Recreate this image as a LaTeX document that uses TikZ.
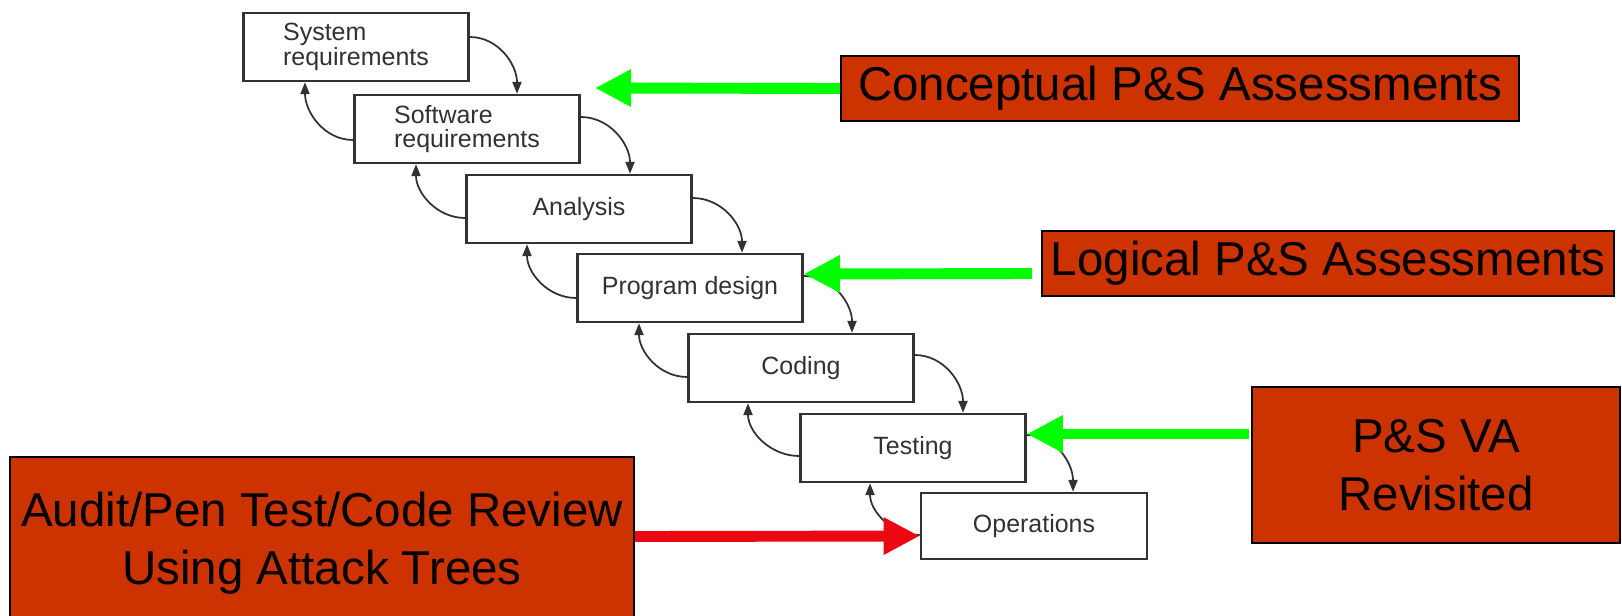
\documentclass[tikz,border=0pt]{standalone}
\usepackage{fontspec}
\setmainfont{Liberation Sans}
\usetikzlibrary{arrows.meta}
\definecolor{boxred}{RGB}{204,51,0}
\definecolor{litegreen}{RGB}{0,255,0}
\definecolor{arrowred}{RGB}{236,8,16}
\definecolor{inkgray}{RGB}{50,50,50}

\begin{document}
\begin{tikzpicture}[x=0.01cm,y=-0.01cm,
    phase/.style={shape=rectangle,draw=inkgray,line width=0.7pt,fill=white,
        minimum width=2.25cm,minimum height=0.68cm,inner sep=0pt,
        align=left,text=inkgray,font=\fontsize{7.1}{6.9}\selectfont},
    taskbox/.style={shape=rectangle,draw=black,line width=0.5pt,fill=boxred,
        inner sep=0pt,align=center,font=\fontsize{13.5}{16.5}\selectfont},
    flow/.style={-{Triangle[length=3.4pt,width=2.6pt]},line width=0.5pt,draw=inkgray},
    hint/.style={-{Triangle[length=0.36cm,width=0.35cm]},line width=3.1pt,draw=litegreen}]
    \useasboundingbox (0,0) rectangle (1622,615);

    % waterfall
    \node[phase] (sys) at (356,47) {System\\requirements};
    \node[phase] (soft) at (467,129) {Software\\requirements};
    \node[phase] (ana) at (579,209) {Analysis};
    \node[phase] (prog) at (690,288) {Program design};
    \node[phase] (cod) at (801,368) {Coding};
    \node[phase] (test) at (913,448) {Testing};
    \node[phase,minimum width=2.26cm,minimum height=0.66cm] (ops) at (1034,526) {Operations};

    \draw[flow] ([shift={(0,-10)}]sys.east) to[out=0,in=90] ([shift={(50,0)}]soft.north);
    \draw[flow] ([shift={(0,-12)}]soft.east) to[out=0,in=90] ([shift={(51,0)}]ana.north);
    \draw[flow] ([shift={(0,-11)}]ana.east) to[out=0,in=90] ([shift={(52,0)}]prog.north);
    \draw[flow] ([shift={(0,-12)}]prog.east) to[out=0,in=90] ([shift={(51,0)}]cod.north);
    \draw[flow] ([shift={(0,-13)}]cod.east) to[out=0,in=90] ([shift={(50,0)}]test.north);
    \draw[flow] ([shift={(0,-13)}]test.east) to[out=0,in=90] ([shift={(39,0)}]ops.north);

    \draw[flow] ([shift={(0,11)}]soft.west) to[out=180,in=-90] ([shift={(-51,0)}]sys.south);
    \draw[flow] ([shift={(0,9)}]ana.west) to[out=180,in=-90] ([shift={(-51,0)}]soft.south);
    \draw[flow] ([shift={(0,10)}]prog.west) to[out=180,in=-90] ([shift={(-52,0)}]ana.south);
    \draw[flow] ([shift={(0,9)}]cod.west) to[out=180,in=-90] ([shift={(-51,0)}]prog.south);
    \draw[flow] ([shift={(0,8)}]test.west) to[out=180,in=-90] ([shift={(-53,0)}]cod.south);
    \draw[flow] ([shift={(0,9)}]ops.west) to[out=180,in=-90] ([shift={(-43,0)}]test.south);

    % assessments
    \node[taskbox,minimum width=6.78cm,minimum height=0.65cm] (concept) at (1180,88.5) {Conceptual P\&S Assessments};
    \node[taskbox,minimum width=5.72cm,minimum height=0.65cm] (logic) at (1328,263.5) {Logical P\&S Assessments};
    \node[taskbox,minimum width=3.68cm,minimum height=1.56cm] (psva) at (1436,465) {P\&S VA\\Revisited};
    \node[taskbox,minimum width=6.24cm,minimum height=1.73cm] (aud) at (322,543.5) {Audit/Pen Test/Code Review\\Using Attack Trees};

    \coordinate (aim) at (595,88);
    \draw[hint] (concept.west) -- (aim);
    \draw[hint] ([shift={(-9,10)}]logic.west) -- ([shift={(0,-14)}]prog.east);
    \draw[hint] ([shift={(-2,-31)}]psva.west) -- ([shift={(0,-14)}]test.east);
    \draw[hint,draw=arrowred] ([shift={(0,-7)}]aud.east) -- ([shift={(0,10)}]ops.west);
\end{tikzpicture}
\end{document}
